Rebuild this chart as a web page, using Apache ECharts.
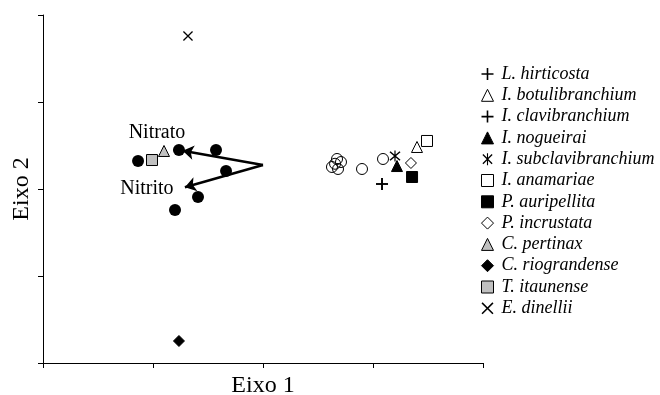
<!DOCTYPE html>
<html><head><meta charset="utf-8">
<script src="https://cdn.jsdelivr.net/npm/echarts@6/dist/echarts.min.js"></script>
<style>html,body{margin:0;padding:0;background:#fff}#c{width:660px;height:395px}</style>
</head><body><div id="c"></div>
<script>
// --- data (Eixo 1, Eixo 2) ---
var sitesFilled = [[0.864,2.322],[1.236,2.448],[1.573,2.448],[1.664,2.207],[1.409,1.908],[1.2,1.759]];
var sitesOpen = [[2.627,2.253],[2.673,2.345],[2.709,2.310],[2.682,2.230],[2.655,2.290],[2.9,2.230],[3.091,2.345]];
var lHirticosta = [[3.082,2.057]];
var iBotulibranchium = [[3.4,2.483]];
var iClavibranchium = [[3.082,2.057]];
var iNogueirai = [[3.218,2.264]];
var iSubclavibranchium = [[3.2,2.379]];
var iAnamariae = [[3.491,2.552]];
var pAuripellita = [[3.355,2.138]];
var pIncrustata = [[3.345,2.299]];
var cPertinax = [[1.1,2.437]];
var cRiograndense = [[1.236,0.253]];
var tItaunense = [[0.991,2.333]];
var eDinellii = [[1.318,3.759]];
var arrowOrigin = [2.0,2.276];
var arrowEnds = [[1.27,2.44],[1.29,2.02]];
var arrowLabels = [['Nitrato',[1.036,2.644]],['Nitrito',[0.945,2.0]]];
var axisNames = ['Eixo 1','Eixo 2'];

var PLUS='path://M-0.8,-6H0.8V-0.8H6V0.8H0.8V6H-0.8V0.8H-6V-0.8H-0.8Z';
var CROSS='path://M-4.5,-5.5L5.5,4.5L4.5,5.5L-5.5,-4.5ZM5.5,-4.5L-4.5,5.5L-5.5,4.5L4.5,-5.5Z';
var STAR='path://M-4.5,-5.5L5.5,4.5L4.5,5.5L-5.5,-4.5ZM5.5,-4.5L-4.5,5.5L-5.5,4.5L4.5,-5.5ZM-0.6,-6.5H0.6V6.5H-0.6Z';

var serif='Liberation Serif';
function sp(name,data,symbol,fill,border,size){
  return {type:'scatter',name:name,data:data,symbol:symbol,symbolSize:size,
    itemStyle:{color:fill,borderColor:'#000',borderWidth:border,opacity:1},z:3};
}
var species=[
  sp('L. hirticosta',lHirticosta,PLUS,'#000',0,12),
  sp('I. botulibranchium',iBotulibranchium,'triangle','#fff',1,11),
  sp('I. clavibranchium',iClavibranchium,PLUS,'#000',0,12),
  sp('I. nogueirai',iNogueirai,'triangle','#000',1,11),
  sp('I. subclavibranchium',iSubclavibranchium,STAR,'#000',0,11),
  sp('I. anamariae',iAnamariae,'rect','#fff',1,11),
  sp('P. auripellita',pAuripellita,'rect','#000',1,11),
  sp('P. incrustata',pIncrustata,'diamond','#fff',1,11),
  sp('C. pertinax',cPertinax,'triangle','#c0c0c0',1,11),
  sp('C. riograndense',cRiograndense,'diamond','#000',1,11),
  sp('T. itaunense',tItaunense,'rect','#c0c0c0',1,11),
  sp('E. dinellii',eDinellii,CROSS,'#000',0,10)
];
var legendData=species.map(function(s){
  return {name:s.name,itemStyle:{borderWidth:s.itemStyle.borderWidth,borderColor:'#000'}};
});
var series=[
  {type:'scatter',name:'sitesFilled',data:sitesFilled,symbol:'circle',symbolSize:12,itemStyle:{color:'#000',opacity:1},z:2},
  {type:'scatter',name:'sitesOpen',data:sitesOpen,symbol:'circle',symbolSize:11,itemStyle:{color:'rgba(255,255,255,0)',borderColor:'#000',borderWidth:1,opacity:1},z:2},
  {type:'lines',coordinateSystem:'cartesian2d',z:4,symbol:['none','arrow'],symbolSize:[0,11],
    lineStyle:{color:'#000',width:2.5,opacity:1},
    data:arrowEnds.map(function(e){return {coords:[arrowOrigin,e]};})},
  {type:'scatter',name:'labels',symbolSize:1,itemStyle:{color:'#fff',opacity:0},z:5,
    data:arrowLabels.map(function(l){return {name:l[0],value:l[1]};}),
    label:{show:true,position:'inside',formatter:'{b}',color:'#000',opacity:1,textBorderWidth:0,fontFamily:serif,fontSize:20}}
].concat(species);

var axisCommon={type:'value',min:0,max:4,interval:1,
  axisLine:{show:true,onZero:false,lineStyle:{color:'#000',width:1}},
  axisTick:{show:true,length:5,lineStyle:{color:'#000',width:1}},
  axisLabel:{show:false},splitLine:{show:false},
  nameLocation:'middle',nameTextStyle:{fontFamily:serif,fontSize:24,color:'#000'}};

var chart=echarts.init(document.getElementById('c'),null,{renderer:'canvas'});
chart.setOption({
  animation:false,
  grid:{left:43,right:177,top:15,bottom:32,containLabel:false,outerBoundsMode:'none'},
  xAxis:Object.assign({},axisCommon,{name:axisNames[0],nameGap:11}),
  yAxis:Object.assign({},axisCommon,{name:axisNames[1],nameGap:9}),
  legend:{orient:'vertical',left:481,top:65,padding:0,itemWidth:12,itemHeight:12,itemGap:3.3,
    data:legendData,selectedMode:false,
    textStyle:{fontFamily:serif,fontStyle:'italic',fontSize:18,color:'#000',padding:[0,0,0,3]}},
  series:series
});
</script></body></html>
